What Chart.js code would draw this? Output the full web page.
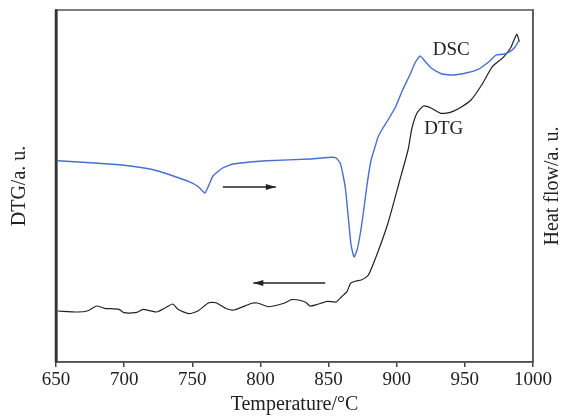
<!DOCTYPE html>
<html>
<head>
<meta charset="utf-8">
<script src="https://cdn.jsdelivr.net/npm/chart.js@4/dist/chart.umd.min.js"></script>
<style>
  html, body { margin: 0; padding: 0; background: #fff; }
  #wrap { width: 564px; height: 417px; position: relative; }
</style>
</head>
<body>
<div id="wrap"><canvas id="c" width="564" height="417"></canvas></div>
<script>
// ---- data (temperature in °C, signal in arbitrary units) ----
const xTicks = [650, 700, 750, 800, 850, 900, 950, 1000];

const dscTemps = [651.3, 694.0, 714.6, 723.4, 735.0, 747.6, 754.2, 759.3, 762.2, 765.2, 772.3, 779.9, 792.4, 804.8, 836.4, 852.3, 855.5, 858.5, 860.6, 862.5, 864.3, 866.5, 868.7, 870.9, 873.1, 875.3, 878.2, 881.2, 884.5, 886.3, 889.9, 893.6, 899.1, 904.3, 909.6, 913.4, 917.1, 920.0, 925.5, 933.2, 941.3, 951.6, 959.7, 967.7, 972.9, 978.0, 983.1, 986.8, 989.4];
const dscValues = [201.3, 197.5, 194, 191.5, 186.5, 180.3, 175.5, 169, 177, 186, 194, 198, 200, 201.3, 203, 204.7, 204, 199, 187, 172, 147, 117, 105, 112, 127, 147, 177, 202, 217, 225, 234, 242, 255, 272, 287, 299, 306, 302, 293.7, 288, 287, 289.3, 292.7, 300.3, 307, 307.7, 310.3, 315, 321];

const dtgTemps = [651.3, 665.8, 673.5, 679.8, 685.6, 696.2, 699.9, 709.3, 713.8, 723.8, 730.4, 735.6, 739.5, 747.5, 754.1, 762.1, 767.3, 775.2, 780.5, 793.7, 797.6, 805.6, 809.5, 817.3, 822.7, 827.9, 833.2, 836.4, 841.1, 849.0, 855.6, 859.6, 863.5, 866.1, 870.1, 874.0, 879.2, 885.9, 893.6, 901.7, 908.3, 911.2, 914.9, 919.7, 925.5, 932.1, 938.7, 946.5, 954.5, 962.3, 970.2, 978.2, 983.4, 986.6, 988.2, 990.0];
const dtgValues = [51, 50, 51.3, 56, 53.7, 52.7, 49.3, 49.7, 52.7, 50, 54.3, 58, 52.7, 48.3, 51, 59.3, 59.3, 53.3, 52, 58.7, 59, 55.3, 56, 58.7, 62.3, 62, 59.7, 56, 57.3, 60.7, 60, 65.3, 70.3, 78.7, 81, 82, 87, 109, 139, 179, 212, 234, 249, 256, 253.7, 248.7, 249.3, 254.3, 262, 277, 295.3, 304.7, 313.7, 323.7, 327.7, 320.3];

const seriesNames = ['DSC', 'DTG'];
const rightTitle = 'Heat flow/a. u.';

const toPts = (xs, ys) => xs.map((x, i) => ({ x: x, y: ys[i] }));

const FONT = "'Liberation Serif', 'Times New Roman', serif";

const framePlugin = {
  id: 'frame',
  afterDraw(chart) {
    const { ctx, chartArea: a, scales } = chart;
    const sx = scales.x, sy = scales.y;
    ctx.save();
    // frame
    ctx.strokeStyle = '#555';
    ctx.lineWidth = 1.5;
    ctx.strokeRect(a.left, a.top, a.right - a.left, a.bottom - a.top);
    ctx.strokeStyle = '#333';
    ctx.lineWidth = 2.5;
    ctx.beginPath(); ctx.moveTo(a.left, a.top); ctx.lineTo(a.left, a.bottom); ctx.stroke();
    // right axis title (reads bottom-to-top like the left one)
    ctx.save();
    ctx.fillStyle = '#222';
    ctx.font = "20px " + FONT;
    ctx.textAlign = 'center';
    ctx.textBaseline = 'middle';
    ctx.translate(a.right + 20, (a.top + a.bottom) / 2);
    ctx.rotate(-Math.PI / 2);
    ctx.fillText(rightTitle, 0, 0);
    ctx.restore();
    // series labels
    ctx.fillStyle = '#222';
    ctx.font = "19px " + FONT;
    ctx.textAlign = 'center';
    ctx.textBaseline = 'middle';
    ctx.fillText(seriesNames[0], sx.getPixelForValue(940), sy.getPixelForValue(312));
    ctx.fillText(seriesNames[1], sx.getPixelForValue(934.5), sy.getPixelForValue(233));
    // arrows
    const arrow = (x1, x2, yv) => {
      const p1 = sx.getPixelForValue(x1), p2 = sx.getPixelForValue(x2), py = sy.getPixelForValue(yv);
      ctx.strokeStyle = '#222'; ctx.fillStyle = '#222'; ctx.lineWidth = 1.3;
      ctx.beginPath(); ctx.moveTo(p1, py); ctx.lineTo(p2, py); ctx.stroke();
      const dir = Math.sign(p2 - p1);
      ctx.beginPath();
      ctx.moveTo(p2, py);
      ctx.lineTo(p2 - dir * 10, py - 3);
      ctx.lineTo(p2 - dir * 10, py + 3);
      ctx.closePath(); ctx.fill();
    };
    arrow(772.4, 811.3, 175);
    arrow(847.5, 794.8, 79);
    ctx.restore();
  }
};

new Chart(document.getElementById('c'), {
  type: 'line',
  data: {
    datasets: [
      { label: seriesNames[0], data: toPts(dscTemps, dscValues), borderColor: '#4a6dd0', borderWidth: 1.4, pointRadius: 0, tension: 0.15, fill: false },
      { label: seriesNames[1], data: toPts(dtgTemps, dtgValues), borderColor: '#222', borderWidth: 1.2, pointRadius: 0, tension: 0.2, fill: false }
    ]
  },
  options: {
    responsive: false,
    animation: false,
    layout: { padding: { top: 10, left: 0, right: 0, bottom: 0 } },
    plugins: { legend: { display: false }, tooltip: { enabled: false } },
    scales: {
      x: {
        type: 'linear', min: 650, max: 1000,
        afterBuildTicks: s => { s.ticks = xTicks.map(v => ({ value: v })); },
        afterFit: s => { s.height = 55; },
        grid: { display: true, drawOnChartArea: false, drawTicks: true, tickLength: 5, color: '#444', lineWidth: 1.5 },
        border: { display: true, color: '#444', width: 1.5 },
        ticks: { color: '#222', font: { family: FONT, size: 19 }, padding: 2, maxRotation: 0, callback: v => String(v) },
        title: { display: true, text: 'Temperature/°C', color: '#222', font: { family: FONT, size: 20 }, padding: { top: 0, bottom: 0 } }
      },
      y: {
        type: 'linear', position: 'left', min: 0, max: 352,
        afterFit: s => { s.width = 56; },
        grid: { display: false },
        border: { display: true, color: '#333', width: 2.5 },
        ticks: { display: false },
        title: { display: true, text: 'DTG/a. u.', color: '#222', font: { family: FONT, size: 20 }, padding: { top: 8, bottom: 0 } }
      },
      y2: {
        type: 'linear', position: 'right', min: 0, max: 352,
        afterFit: s => { s.width = 31; },
        grid: { display: false },
        border: { display: true, color: '#555', width: 1.5 },
        ticks: { display: false },
        title: { display: false }
      }
    }
  },
  plugins: [framePlugin]
});
</script>
</body>
</html>
